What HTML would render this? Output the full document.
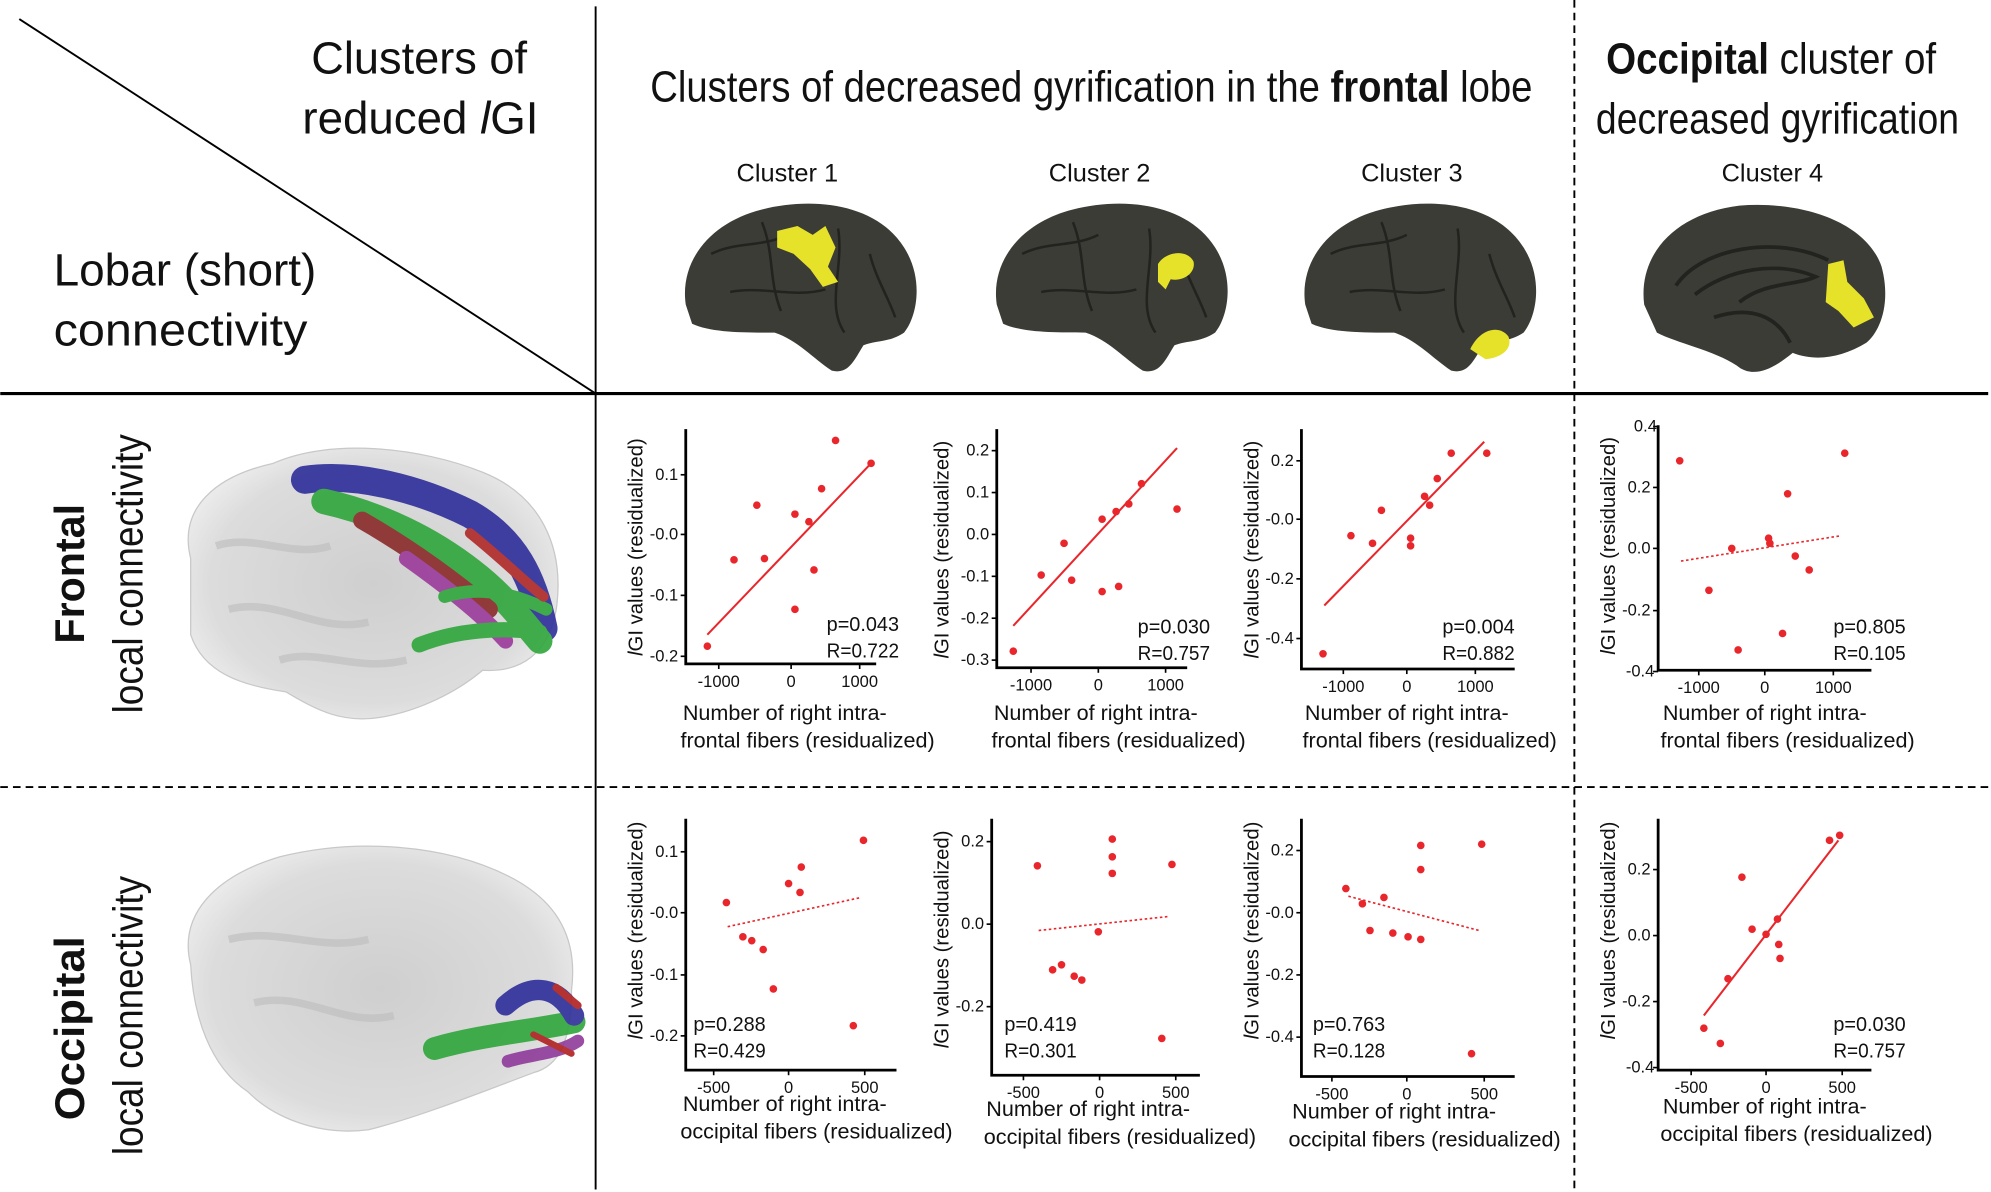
<!DOCTYPE html>
<html><head><meta charset="utf-8"><style>
html,body{margin:0;padding:0;background:#fff}
svg{display:block}
text{font-family:"Liberation Sans Narrow","Liberation Sans",sans-serif;fill:#111}
.t{font-size:13px}
.yl{font-size:16px}
.xl{font-size:17px}
.pr{font-size:16px}
.dot{fill:#e8262b}
.ax{stroke:#000;stroke-width:2.2;fill:none}
.tk{stroke:#000;stroke-width:1.3}
.fit{stroke:#e8262b;stroke-width:1.6}
.fd{stroke:#e8262b;stroke-width:1.3;stroke-dasharray:2 2}
</style></head><body>
<svg width="1991" height="1192" viewBox="0 0 1568 939" xmlns="http://www.w3.org/2000/svg">
<defs>
<radialGradient id="gl" cx="50%" cy="50%" r="55%"><stop offset="0" stop-color="#cfcfcf"/><stop offset="0.8" stop-color="#dcdcdc"/><stop offset="1" stop-color="#ebebeb"/></radialGradient>
</defs>
<line x1="15" y1="15" x2="469" y2="310" stroke="#000" stroke-width="1.5"/>
<line x1="469" y1="5" x2="469" y2="937" stroke="#000" stroke-width="1.5"/>
<line x1="0" y1="310" x2="1566" y2="310" stroke="#000" stroke-width="2.5"/>
<line x1="1240" y1="0" x2="1240" y2="937" stroke="#000" stroke-width="1.5" stroke-dasharray="6 4"/>
<line x1="0" y1="620" x2="1566" y2="620" stroke="#000" stroke-width="1.5" stroke-dasharray="6 4"/>

<text x="415" y="58" font-size="36" text-anchor="end" textLength="170" lengthAdjust="spacingAndGlyphs">Clusters of</text>
<text x="424" y="105" font-size="36" text-anchor="end" textLength="186" lengthAdjust="spacingAndGlyphs">reduced <tspan font-style="italic">l</tspan>GI</text>
<text x="42" y="225" font-size="36" textLength="207" lengthAdjust="spacingAndGlyphs">Lobar (short)</text>
<text x="42" y="272" font-size="36" textLength="200" lengthAdjust="spacingAndGlyphs">connectivity</text>
<text x="512" y="80" font-size="34" textLength="695" lengthAdjust="spacingAndGlyphs">Clusters of decreased gyrification in the <tspan font-weight="bold">frontal</tspan> lobe</text>
<text x="1265" y="58" font-size="34" textLength="260" lengthAdjust="spacingAndGlyphs"><tspan font-weight="bold">Occipital</tspan> cluster of</text>
<text x="1257" y="105" font-size="34" textLength="286" lengthAdjust="spacingAndGlyphs">decreased gyrification</text>
<text x="620" y="143" font-size="20" text-anchor="middle">Cluster 1</text>
<text x="866" y="143" font-size="20" text-anchor="middle">Cluster 2</text>
<text x="1112" y="143" font-size="20" text-anchor="middle">Cluster 3</text>
<text x="1396" y="143" font-size="20" text-anchor="middle">Cluster 4</text>

<g id="b1">
<path d="M540,240 C535,205 560,175 600,165 C640,155 690,160 712,195 C728,220 722,250 712,262 C700,270 690,268 680,272 C672,285 668,295 655,292 C640,282 628,268 610,262 C585,262 560,262 545,255 Z" fill="#3c3c37"/>
<path d="M560,200 C580,190 600,195 620,185 M575,230 C600,225 625,235 650,228 M600,175 C610,200 605,220 615,245 M660,180 C665,210 650,240 665,262 M685,200 C690,220 700,235 705,250" stroke="#22221f" stroke-width="2" fill="none"/>
</g>
<path d="M612,182 L628,178 L640,185 L650,178 L658,195 L652,210 L660,222 L648,226 L638,212 L625,200 L612,195 Z" fill="#e6e22a"/>
<use href="#b1" x="245"/>
<path d="M912,208 C918,198 935,196 940,206 C942,215 932,222 922,220 L918,228 L912,222 Z" fill="#e6e22a"/>
<use href="#b1" x="488"/>
<path d="M1158,275 C1165,260 1180,255 1188,265 C1192,275 1182,282 1170,283 Z" fill="#e6e22a"/>
<path d="M1295,240 C1290,200 1320,168 1370,162 C1420,158 1470,175 1482,210 C1490,240 1480,262 1470,270 C1450,282 1430,285 1412,278 C1395,292 1380,298 1368,288 C1350,276 1320,270 1305,262 Z" fill="#3c3c37"/>
<path d="M1320,225 C1340,195 1400,185 1440,205 M1335,232 C1360,212 1400,205 1430,218 C1415,225 1390,222 1370,238 M1350,250 C1380,240 1400,250 1410,270" stroke="#22221f" stroke-width="3" fill="none"/>
<path d="M1440,208 L1452,205 L1455,222 L1468,235 L1476,250 L1460,258 L1448,245 L1438,238 Z" fill="#e6e22a"/>

<text transform="translate(66,452) rotate(-90)" font-size="33" font-weight="bold" text-anchor="middle" textLength="110" lengthAdjust="spacingAndGlyphs">Frontal</text>
<text transform="translate(112,452) rotate(-90)" font-size="33" text-anchor="middle" textLength="220" lengthAdjust="spacingAndGlyphs">local connectivity</text>
<text transform="translate(66,810) rotate(-90)" font-size="33" font-weight="bold" text-anchor="middle" textLength="145" lengthAdjust="spacingAndGlyphs">Occipital</text>
<text transform="translate(112,800) rotate(-90)" font-size="33" text-anchor="middle" textLength="220" lengthAdjust="spacingAndGlyphs">local connectivity</text>

<path d="M150,440 C140,400 170,375 215,365 C260,345 330,352 380,372 C425,390 445,430 438,480 C432,515 410,530 380,528 C360,545 330,560 300,565 C270,570 250,560 225,545 C190,540 160,530 150,500 Z" fill="url(#gl)" stroke="#c8c8c8"/>
<g fill="none" stroke="#bdbdbd" stroke-width="6" opacity="0.6"><path d="M170,430 C200,420 230,440 260,430"/><path d="M180,480 C220,470 250,500 290,490"/><path d="M220,520 C250,510 280,530 320,520"/></g>
<g fill="none" stroke-linecap="round" opacity="0.9">
<path d="M240,378 C280,372 330,385 370,405 C405,425 420,455 428,495" stroke="#2e2e9a" stroke-width="22"/>
<path d="M255,395 C300,405 340,425 372,450 C398,470 412,490 425,505" stroke="#2fa63b" stroke-width="20"/>
<path d="M285,410 C320,430 355,455 385,480" stroke="#8a2a2a" stroke-width="14"/>
<path d="M320,440 C355,465 380,485 398,505" stroke="#9b3a9b" stroke-width="12"/>
<path d="M330,508 C360,496 395,494 425,498" stroke="#2fa63b" stroke-width="12"/>
<path d="M350,470 C380,460 410,470 430,480" stroke="#2fa63b" stroke-width="10"/>
<path d="M370,420 C395,440 415,460 428,470" stroke="#b02828" stroke-width="8"/>
</g>
<path d="M150,760 C140,720 170,690 220,675 C280,660 350,665 400,690 C440,710 455,740 450,780 C450,820 440,840 420,845 C380,860 330,880 290,890 C250,895 215,880 195,860 C165,840 152,800 150,760 Z" fill="url(#gl)" stroke="#c8c8c8"/>
<g fill="none" stroke="#bdbdbd" stroke-width="6" opacity="0.6"><path d="M180,740 C220,730 250,750 290,740"/><path d="M200,790 C240,780 270,810 310,800"/></g>
<g fill="none" stroke-linecap="round" opacity="0.9">
<path d="M342,826 C380,815 420,812 452,805" stroke="#2fa63b" stroke-width="18"/>
<path d="M398,792 C420,772 440,778 452,800" stroke="#2e2e9a" stroke-width="16"/>
<path d="M400,836 C420,830 440,830 455,820" stroke="#8e3a9a" stroke-width="10"/>
<path d="M438,778 L455,792" stroke="#b02020" stroke-width="6"/>
<path d="M420,815 L450,830" stroke="#b02020" stroke-width="5"/>
</g>

<g>
<path class="ax" d="M540,338 V523 H690"/>
<line class="tk" x1="536" y1="374" x2="540" y2="374"/><line class="tk" x1="536" y1="421" x2="540" y2="421"/><line class="tk" x1="536" y1="469" x2="540" y2="469"/><line class="tk" x1="536" y1="517" x2="540" y2="517"/>
<text class="t" x="534" y="378" text-anchor="end">0.1</text><text class="t" x="534" y="425" text-anchor="end">-0.0</text><text class="t" x="534" y="473" text-anchor="end">-0.1</text><text class="t" x="534" y="521" text-anchor="end">-0.2</text>
<line class="tk" x1="566" y1="523" x2="566" y2="527"/><line class="tk" x1="623" y1="523" x2="623" y2="527"/><line class="tk" x1="677" y1="523" x2="677" y2="527"/>
<text class="t" x="566" y="541" text-anchor="middle">-1000</text><text class="t" x="623" y="541" text-anchor="middle">0</text><text class="t" x="677" y="541" text-anchor="middle">1000</text>
<line class="fit" x1="557" y1="500" x2="686" y2="365"/>
<circle class="dot" cx="557" cy="509" r="3"/><circle class="dot" cx="578" cy="441" r="3"/><circle class="dot" cx="596" cy="398" r="3"/><circle class="dot" cx="602" cy="440" r="3"/><circle class="dot" cx="626" cy="405" r="3"/><circle class="dot" cx="637" cy="411" r="3"/><circle class="dot" cx="641" cy="449" r="3"/><circle class="dot" cx="647" cy="385" r="3"/><circle class="dot" cx="658" cy="347" r="3"/><circle class="dot" cx="686" cy="365" r="3"/><circle class="dot" cx="626" cy="480" r="3"/>
<text class="pr" x="708" y="497" text-anchor="end" textLength="57" lengthAdjust="spacingAndGlyphs">p=0.043</text><text class="pr" x="708" y="518" text-anchor="end" textLength="57" lengthAdjust="spacingAndGlyphs">R=0.722</text>
<text class="yl" transform="translate(506,431) rotate(-90)" text-anchor="middle"><tspan font-style="italic">l</tspan>GI values (residualized)</text>
<text class="xl" x="618" y="567" text-anchor="middle">Number of right intra-</text><text class="xl" x="636" y="589" text-anchor="middle">frontal fibers (residualized)</text>
</g>
<g>
<path class="ax" d="M785,338 V526 H935"/>
<line class="tk" x1="781" y1="355" x2="785" y2="355"/><line class="tk" x1="781" y1="388" x2="785" y2="388"/><line class="tk" x1="781" y1="421" x2="785" y2="421"/><line class="tk" x1="781" y1="454" x2="785" y2="454"/><line class="tk" x1="781" y1="487" x2="785" y2="487"/><line class="tk" x1="781" y1="520" x2="785" y2="520"/>
<text class="t" x="779" y="359" text-anchor="end">0.2</text><text class="t" x="779" y="392" text-anchor="end">0.1</text><text class="t" x="779" y="425" text-anchor="end">0.0</text><text class="t" x="779" y="458" text-anchor="end">-0.1</text><text class="t" x="779" y="491" text-anchor="end">-0.2</text><text class="t" x="779" y="524" text-anchor="end">-0.3</text>
<line class="tk" x1="812" y1="526" x2="812" y2="530"/><line class="tk" x1="865" y1="526" x2="865" y2="530"/><line class="tk" x1="918" y1="526" x2="918" y2="530"/>
<text class="t" x="812" y="544" text-anchor="middle">-1000</text><text class="t" x="865" y="544" text-anchor="middle">0</text><text class="t" x="918" y="544" text-anchor="middle">1000</text>
<line class="fit" x1="798" y1="493" x2="927" y2="353"/>
<circle class="dot" cx="798" cy="513" r="3"/><circle class="dot" cx="820" cy="453" r="3"/><circle class="dot" cx="838" cy="428" r="3"/><circle class="dot" cx="844" cy="457" r="3"/><circle class="dot" cx="868" cy="409" r="3"/><circle class="dot" cx="868" cy="466" r="3"/><circle class="dot" cx="879" cy="403" r="3"/><circle class="dot" cx="881" cy="462" r="3"/><circle class="dot" cx="889" cy="397" r="3"/><circle class="dot" cx="899" cy="381" r="3"/><circle class="dot" cx="927" cy="401" r="3"/>
<text class="pr" x="953" y="499" text-anchor="end" textLength="57" lengthAdjust="spacingAndGlyphs">p=0.030</text><text class="pr" x="953" y="520" text-anchor="end" textLength="57" lengthAdjust="spacingAndGlyphs">R=0.757</text>
<text class="yl" transform="translate(747,433) rotate(-90)" text-anchor="middle"><tspan font-style="italic">l</tspan>GI values (residualized)</text>
<text class="xl" x="863" y="567" text-anchor="middle">Number of right intra-</text><text class="xl" x="881" y="589" text-anchor="middle">frontal fibers (residualized)</text>
</g>
<g>
<path class="ax" d="M1025,338 V527 H1193"/>
<line class="tk" x1="1021" y1="363" x2="1025" y2="363"/><line class="tk" x1="1021" y1="409" x2="1025" y2="409"/><line class="tk" x1="1021" y1="456" x2="1025" y2="456"/><line class="tk" x1="1021" y1="503" x2="1025" y2="503"/>
<text class="t" x="1019" y="367" text-anchor="end">0.2</text><text class="t" x="1019" y="413" text-anchor="end">-0.0</text><text class="t" x="1019" y="460" text-anchor="end">-0.2</text><text class="t" x="1019" y="507" text-anchor="end">-0.4</text>
<line class="tk" x1="1058" y1="527" x2="1058" y2="531"/><line class="tk" x1="1108" y1="527" x2="1108" y2="531"/><line class="tk" x1="1162" y1="527" x2="1162" y2="531"/>
<text class="t" x="1058" y="545" text-anchor="middle">-1000</text><text class="t" x="1108" y="545" text-anchor="middle">0</text><text class="t" x="1162" y="545" text-anchor="middle">1000</text>
<line class="fit" x1="1043" y1="477" x2="1169" y2="348"/>
<circle class="dot" cx="1042" cy="515" r="3"/><circle class="dot" cx="1064" cy="422" r="3"/><circle class="dot" cx="1081" cy="428" r="3"/><circle class="dot" cx="1088" cy="402" r="3"/><circle class="dot" cx="1111" cy="424" r="3"/><circle class="dot" cx="1111" cy="430" r="3"/><circle class="dot" cx="1122" cy="391" r="3"/><circle class="dot" cx="1126" cy="398" r="3"/><circle class="dot" cx="1132" cy="377" r="3"/><circle class="dot" cx="1143" cy="357" r="3"/><circle class="dot" cx="1171" cy="357" r="3"/>
<text class="pr" x="1193" y="499" text-anchor="end" textLength="57" lengthAdjust="spacingAndGlyphs">p=0.004</text><text class="pr" x="1193" y="520" text-anchor="end" textLength="57" lengthAdjust="spacingAndGlyphs">R=0.882</text>
<text class="yl" transform="translate(991,433) rotate(-90)" text-anchor="middle"><tspan font-style="italic">l</tspan>GI values (residualized)</text>
<text class="xl" x="1108" y="567" text-anchor="middle">Number of right intra-</text><text class="xl" x="1126" y="589" text-anchor="middle">frontal fibers (residualized)</text>
</g>
<g>
<path class="ax" d="M1306,335 V528 H1474"/>
<line class="tk" x1="1302" y1="336" x2="1306" y2="336"/><line class="tk" x1="1302" y1="384" x2="1306" y2="384"/><line class="tk" x1="1302" y1="432" x2="1306" y2="432"/><line class="tk" x1="1302" y1="481" x2="1306" y2="481"/><line class="tk" x1="1302" y1="529" x2="1306" y2="529"/>
<text class="t" x="1305" y="340" text-anchor="end">0.4</text><text class="t" x="1300" y="388" text-anchor="end">0.2</text><text class="t" x="1300" y="436" text-anchor="end">0.0</text><text class="t" x="1300" y="485" text-anchor="end">-0.2</text><text class="t" x="1303" y="533" text-anchor="end">-0.4</text>
<line class="tk" x1="1338" y1="528" x2="1338" y2="532"/><line class="tk" x1="1390" y1="528" x2="1390" y2="532"/><line class="tk" x1="1444" y1="528" x2="1444" y2="532"/>
<text class="t" x="1338" y="546" text-anchor="middle">-1000</text><text class="t" x="1390" y="546" text-anchor="middle">0</text><text class="t" x="1444" y="546" text-anchor="middle">1000</text>
<line class="fd" x1="1324" y1="442" x2="1450" y2="422"/>
<circle class="dot" cx="1323" cy="363" r="3"/><circle class="dot" cx="1346" cy="465" r="3"/><circle class="dot" cx="1364" cy="432" r="3"/><circle class="dot" cx="1369" cy="512" r="3"/><circle class="dot" cx="1393" cy="424" r="3"/><circle class="dot" cx="1394" cy="428" r="3"/><circle class="dot" cx="1404" cy="499" r="3"/><circle class="dot" cx="1408" cy="389" r="3"/><circle class="dot" cx="1414" cy="438" r="3"/><circle class="dot" cx="1425" cy="449" r="3"/><circle class="dot" cx="1453" cy="357" r="3"/>
<text class="pr" x="1501" y="499" text-anchor="end" textLength="57" lengthAdjust="spacingAndGlyphs">p=0.805</text><text class="pr" x="1501" y="520" text-anchor="end" textLength="57" lengthAdjust="spacingAndGlyphs">R=0.105</text>
<text class="yl" transform="translate(1272,430) rotate(-90)" text-anchor="middle"><tspan font-style="italic">l</tspan>GI values (residualized)</text>
<text class="xl" x="1390" y="567" text-anchor="middle">Number of right intra-</text><text class="xl" x="1408" y="589" text-anchor="middle">frontal fibers (residualized)</text>
</g>
<g>
<path class="ax" d="M540,645 V843 H706"/>
<line class="tk" x1="536" y1="671" x2="540" y2="671"/><line class="tk" x1="536" y1="719" x2="540" y2="719"/><line class="tk" x1="536" y1="768" x2="540" y2="768"/><line class="tk" x1="536" y1="816" x2="540" y2="816"/>
<text class="t" x="534" y="675" text-anchor="end">0.1</text><text class="t" x="534" y="723" text-anchor="end">-0.0</text><text class="t" x="534" y="772" text-anchor="end">-0.1</text><text class="t" x="534" y="820" text-anchor="end">-0.2</text>
<line class="tk" x1="562" y1="843" x2="562" y2="847"/><line class="tk" x1="621" y1="843" x2="621" y2="847"/><line class="tk" x1="681" y1="843" x2="681" y2="847"/>
<text class="t" x="562" y="861" text-anchor="middle">-500</text><text class="t" x="621" y="861" text-anchor="middle">0</text><text class="t" x="681" y="861" text-anchor="middle">500</text>
<line class="fd" x1="573" y1="730" x2="678" y2="707"/>
<circle class="dot" cx="572" cy="711" r="3"/><circle class="dot" cx="585" cy="738" r="3"/><circle class="dot" cx="592" cy="741" r="3"/><circle class="dot" cx="601" cy="748" r="3"/><circle class="dot" cx="609" cy="779" r="3"/><circle class="dot" cx="621" cy="696" r="3"/><circle class="dot" cx="630" cy="703" r="3"/><circle class="dot" cx="631" cy="683" r="3"/><circle class="dot" cx="672" cy="808" r="3"/><circle class="dot" cx="680" cy="662" r="3"/>
<text class="pr" x="546" y="812" textLength="57" lengthAdjust="spacingAndGlyphs">p=0.288</text><text class="pr" x="546" y="833" textLength="57" lengthAdjust="spacingAndGlyphs">R=0.429</text>
<text class="yl" transform="translate(506,733) rotate(-90)" text-anchor="middle"><tspan font-style="italic">l</tspan>GI values (residualized)</text>
<text class="xl" x="618" y="875" text-anchor="middle">Number of right intra-</text><text class="xl" x="643" y="897" text-anchor="middle">occipital fibers (residualized)</text>
</g>
<g>
<path class="ax" d="M781,645 V847 H945"/>
<line class="tk" x1="777" y1="663" x2="781" y2="663"/><line class="tk" x1="777" y1="728" x2="781" y2="728"/><line class="tk" x1="777" y1="793" x2="781" y2="793"/>
<text class="t" x="775" y="667" text-anchor="end">0.2</text><text class="t" x="775" y="732" text-anchor="end">0.0</text><text class="t" x="775" y="797" text-anchor="end">-0.2</text>
<line class="tk" x1="806" y1="847" x2="806" y2="851"/><line class="tk" x1="866" y1="847" x2="866" y2="851"/><line class="tk" x1="926" y1="847" x2="926" y2="851"/>
<text class="t" x="806" y="865" text-anchor="middle">-500</text><text class="t" x="866" y="865" text-anchor="middle">0</text><text class="t" x="926" y="865" text-anchor="middle">500</text>
<line class="fd" x1="818" y1="733" x2="920" y2="722"/>
<circle class="dot" cx="817" cy="682" r="3"/><circle class="dot" cx="829" cy="764" r="3"/><circle class="dot" cx="836" cy="760" r="3"/><circle class="dot" cx="846" cy="769" r="3"/><circle class="dot" cx="852" cy="772" r="3"/><circle class="dot" cx="865" cy="734" r="3"/><circle class="dot" cx="876" cy="661" r="3"/><circle class="dot" cx="876" cy="675" r="3"/><circle class="dot" cx="876" cy="688" r="3"/><circle class="dot" cx="915" cy="818" r="3"/><circle class="dot" cx="923" cy="681" r="3"/>
<text class="pr" x="791" y="812" textLength="57" lengthAdjust="spacingAndGlyphs">p=0.419</text><text class="pr" x="791" y="833" textLength="57" lengthAdjust="spacingAndGlyphs">R=0.301</text>
<text class="yl" transform="translate(747,740) rotate(-90)" text-anchor="middle"><tspan font-style="italic">l</tspan>GI values (residualized)</text>
<text class="xl" x="857" y="879" text-anchor="middle">Number of right intra-</text><text class="xl" x="882" y="901" text-anchor="middle">occipital fibers (residualized)</text>
</g>
<g>
<path class="ax" d="M1025,645 V848 H1193"/>
<line class="tk" x1="1021" y1="670" x2="1025" y2="670"/><line class="tk" x1="1021" y1="719" x2="1025" y2="719"/><line class="tk" x1="1021" y1="768" x2="1025" y2="768"/><line class="tk" x1="1021" y1="817" x2="1025" y2="817"/>
<text class="t" x="1019" y="674" text-anchor="end">0.2</text><text class="t" x="1019" y="723" text-anchor="end">-0.0</text><text class="t" x="1019" y="772" text-anchor="end">-0.2</text><text class="t" x="1019" y="821" text-anchor="end">-0.4</text>
<line class="tk" x1="1049" y1="848" x2="1049" y2="852"/><line class="tk" x1="1108" y1="848" x2="1108" y2="852"/><line class="tk" x1="1169" y1="848" x2="1169" y2="852"/>
<text class="t" x="1049" y="866" text-anchor="middle">-500</text><text class="t" x="1108" y="866" text-anchor="middle">0</text><text class="t" x="1169" y="866" text-anchor="middle">500</text>
<line class="fd" x1="1062" y1="706" x2="1165" y2="733"/>
<circle class="dot" cx="1060" cy="700" r="3"/><circle class="dot" cx="1073" cy="712" r="3"/><circle class="dot" cx="1079" cy="733" r="3"/><circle class="dot" cx="1090" cy="707" r="3"/><circle class="dot" cx="1097" cy="735" r="3"/><circle class="dot" cx="1109" cy="738" r="3"/><circle class="dot" cx="1119" cy="740" r="3"/><circle class="dot" cx="1119" cy="685" r="3"/><circle class="dot" cx="1119" cy="666" r="3"/><circle class="dot" cx="1159" cy="830" r="3"/><circle class="dot" cx="1167" cy="665" r="3"/>
<text class="pr" x="1034" y="812" textLength="57" lengthAdjust="spacingAndGlyphs">p=0.763</text><text class="pr" x="1034" y="833" textLength="57" lengthAdjust="spacingAndGlyphs">R=0.128</text>
<text class="yl" transform="translate(991,733) rotate(-90)" text-anchor="middle"><tspan font-style="italic">l</tspan>GI values (residualized)</text>
<text class="xl" x="1098" y="881" text-anchor="middle">Number of right intra-</text><text class="xl" x="1122" y="903" text-anchor="middle">occipital fibers (residualized)</text>
</g>
<g>
<path class="ax" d="M1306,645 V843 H1474"/>
<line class="tk" x1="1302" y1="685" x2="1306" y2="685"/><line class="tk" x1="1302" y1="737" x2="1306" y2="737"/><line class="tk" x1="1302" y1="789" x2="1306" y2="789"/><line class="tk" x1="1302" y1="841" x2="1306" y2="841"/>
<text class="t" x="1300" y="689" text-anchor="end">0.2</text><text class="t" x="1300" y="741" text-anchor="end">0.0</text><text class="t" x="1300" y="793" text-anchor="end">-0.2</text><text class="t" x="1303" y="845" text-anchor="end">-0.4</text>
<line class="tk" x1="1332" y1="843" x2="1332" y2="847"/><line class="tk" x1="1391" y1="843" x2="1391" y2="847"/><line class="tk" x1="1451" y1="843" x2="1451" y2="847"/>
<text class="t" x="1332" y="861" text-anchor="middle">-500</text><text class="t" x="1391" y="861" text-anchor="middle">0</text><text class="t" x="1451" y="861" text-anchor="middle">500</text>
<line class="fit" x1="1342" y1="800" x2="1448" y2="662"/>
<circle class="dot" cx="1342" cy="810" r="3"/><circle class="dot" cx="1355" cy="822" r="3"/><circle class="dot" cx="1361" cy="771" r="3"/><circle class="dot" cx="1372" cy="691" r="3"/><circle class="dot" cx="1380" cy="732" r="3"/><circle class="dot" cx="1391" cy="736" r="3"/><circle class="dot" cx="1400" cy="724" r="3"/><circle class="dot" cx="1401" cy="744" r="3"/><circle class="dot" cx="1402" cy="755" r="3"/><circle class="dot" cx="1441" cy="662" r="3"/><circle class="dot" cx="1449" cy="658" r="3"/>
<text class="pr" x="1501" y="812" text-anchor="end" textLength="57" lengthAdjust="spacingAndGlyphs">p=0.030</text><text class="pr" x="1501" y="833" text-anchor="end" textLength="57" lengthAdjust="spacingAndGlyphs">R=0.757</text>
<text class="yl" transform="translate(1272,733) rotate(-90)" text-anchor="middle"><tspan font-style="italic">l</tspan>GI values (residualized)</text>
<text class="xl" x="1390" y="877" text-anchor="middle">Number of right intra-</text><text class="xl" x="1415" y="899" text-anchor="middle">occipital fibers (residualized)</text>
</g>
</svg>
</body></html>
